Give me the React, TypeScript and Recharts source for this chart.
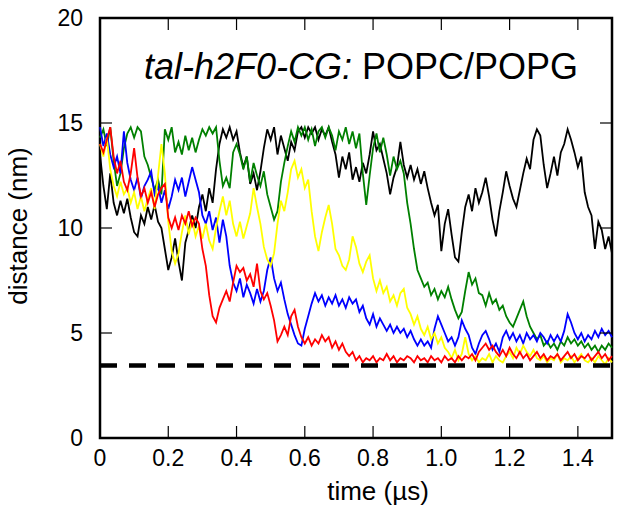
import {
  LineChart,
  Line,
  XAxis,
  YAxis,
  ReferenceLine,
  ReferenceArea
} from 'recharts'

// time step of the trajectories (µs)
const dt = 0.01

const blackRun = [
  13.5, 12.0, 10.9, 12.6, 11.2, 10.6, 11.3, 10.7, 11.4, 10.5,
  9.8, 9.6, 10.6, 10.2, 11.0, 10.4, 11.1, 10.3, 10.0, 9.0,
  8.0, 8.6, 9.5, 8.4, 7.5, 9.3, 9.9, 10.6, 10.0, 11.0,
  11.6, 10.8, 11.9, 11.2, 12.8, 14.0, 14.7, 14.3, 14.8, 14.2,
  14.6, 13.6, 12.9, 13.4, 12.1, 12.6, 11.8, 12.7, 13.8, 14.7,
  14.2, 14.8, 13.5, 14.4, 13.8, 13.2, 14.1, 13.7, 14.6, 14.8,
  14.3, 14.8, 14.5, 14.8, 14.2, 14.7, 14.4, 14.8, 14.1, 13.5,
  12.4, 13.4, 12.8, 13.6, 12.3, 12.9, 12.2, 13.1, 12.6, 13.5,
  14.6, 13.7, 14.0, 13.3, 12.6, 11.6, 12.4, 12.9, 14.1, 13.0,
  12.4, 13.0, 12.3, 12.8, 12.1, 12.7, 11.9, 11.2, 10.6, 11.1,
  8.9, 10.2, 10.9, 9.7, 8.6, 8.4, 9.8, 11.0, 11.6, 10.8,
  11.9, 11.2, 11.7, 12.4, 11.5, 10.4, 9.6, 10.8, 11.7, 12.7,
  12.0, 11.4, 11.0, 11.8, 12.6, 13.3, 12.8, 14.2, 14.7, 14.4,
  13.0, 11.9, 12.6, 13.4, 12.5, 13.6, 14.0, 14.7, 14.2, 13.6,
  12.9, 13.4, 11.7, 11.0, 10.6, 9.0, 10.3, 9.9, 9.0, 9.6,
  8.8
]

const greenRun = [
  14.3, 14.7, 13.9, 14.8, 13.2, 12.0, 12.6, 13.8, 14.5, 14.8,
  14.3, 14.8, 14.6, 13.4, 13.0, 12.4, 11.8, 12.3, 11.6, 14.7,
  14.2, 14.8, 13.6, 14.1, 13.5, 14.4, 13.7, 14.3, 13.6, 14.2,
  14.7, 14.4, 14.8, 14.5, 14.8, 13.2, 12.0, 12.4, 11.9, 13.6,
  14.0, 13.5, 12.8, 13.4, 12.2, 13.1, 12.5, 12.0, 12.7, 11.6,
  11.0, 10.4, 10.8, 12.2, 13.1, 13.9, 14.6, 14.1, 14.8, 14.4,
  14.8, 14.2, 14.7, 13.9, 14.6, 14.8, 14.3, 14.8, 14.4, 13.7,
  14.6, 14.2, 14.8, 14.0, 14.6, 13.8, 14.5, 12.6, 11.1, 12.5,
  13.8, 14.5, 13.6, 14.3, 13.5, 12.5, 13.4, 12.8, 13.2, 12.6,
  11.2, 10.2, 9.0, 8.0, 7.6, 7.2, 7.4, 6.8, 7.1, 6.6,
  7.0, 6.7, 7.2, 6.6, 6.1, 5.7, 6.0, 7.0, 7.9, 7.3,
  7.6, 6.9, 6.8, 6.3, 6.9, 6.4, 6.6, 6.1, 6.3, 5.8,
  5.5, 5.3, 5.7, 6.1, 6.5, 5.8, 5.3, 5.0, 4.7, 4.9,
  4.4, 4.6, 4.3, 4.5, 4.2, 4.6, 4.4, 4.8, 4.5, 4.7,
  4.4, 4.6, 4.3, 4.5, 4.2, 4.4, 4.1, 4.4, 4.2, 4.5,
  4.3
]

const yellowRun = [
  14.0, 13.4, 14.3, 12.8, 12.0, 11.5, 12.2, 11.6, 11.9, 11.2,
  11.7, 10.9, 11.5, 10.8, 11.4, 11.9, 10.9, 12.5, 14.0, 12.6,
  10.3, 8.9, 8.3, 8.8, 9.8, 10.6, 9.7, 10.4, 9.6, 10.1,
  9.5, 10.2, 9.4, 9.0, 10.0, 10.8, 11.5, 10.6, 11.3, 10.2,
  9.6, 10.3, 9.5, 10.1, 10.7, 11.9, 11.0, 10.2, 9.1, 8.5,
  8.2, 8.8, 10.2, 11.3, 10.8, 11.7, 12.8, 13.2, 12.4, 12.8,
  11.9, 12.3, 10.8, 9.6, 8.9, 9.8, 10.5, 11.1, 10.2, 9.0,
  8.7, 8.2, 8.0, 8.5, 9.6, 9.1, 8.3, 7.9, 8.4, 8.7,
  7.6, 7.0, 7.5, 6.9, 7.2, 6.5, 6.8, 6.3, 6.9, 7.1,
  6.2, 5.9, 5.4, 5.8, 5.2, 4.9, 5.3, 4.7, 5.0, 4.5,
  4.8, 4.3, 4.1, 3.8, 4.2, 3.7, 4.0, 4.8, 4.0, 3.7,
  3.9, 3.6, 3.8, 3.7, 4.0, 3.6, 3.9, 3.7, 3.6, 3.9,
  4.1, 3.8, 4.3, 4.0, 4.4, 4.1, 3.9, 4.2, 3.8, 3.7,
  3.9, 3.6, 3.8, 3.7, 4.0, 3.6, 3.8, 3.7, 3.9, 3.6,
  3.8, 4.0, 3.7, 3.6, 3.8, 3.6, 3.9, 3.7, 3.5, 3.8,
  3.6
]

const blueRun = [
  14.8, 13.9, 14.5, 13.5, 12.9, 13.4, 12.6, 14.6, 13.1, 12.3,
  11.8, 12.4, 11.4, 12.0, 12.3, 12.7, 11.6, 12.0, 11.2, 11.8,
  10.9, 11.5, 12.3, 11.8, 12.4, 11.5, 12.2, 12.9, 12.3, 11.7,
  10.6, 10.2, 10.8, 9.9, 10.5, 9.3, 10.4, 9.6, 8.2, 7.4,
  7.0, 7.6, 6.7, 7.3, 6.9, 6.4, 7.1, 6.5, 7.0, 8.0,
  8.6, 7.6, 7.0, 7.4, 6.6, 5.9, 5.4, 4.9, 4.5, 4.4,
  5.2, 5.8, 6.4, 6.9, 6.5, 6.8, 6.3, 6.7, 6.4, 6.8,
  6.3, 6.6, 6.2, 6.7, 6.4, 6.6, 6.0, 6.3, 5.7, 5.4,
  5.9, 5.3, 5.7, 5.4, 5.1, 5.4, 5.0, 5.3, 5.0, 5.2,
  4.8, 5.1, 4.7, 4.4, 4.7, 4.4, 4.6, 4.3, 5.2, 5.8,
  5.4, 5.0, 4.6, 4.8, 4.4, 4.8, 5.6, 5.2, 4.9, 4.3,
  4.0, 4.5, 4.9, 5.1, 4.7, 4.2, 4.5, 4.1, 4.8, 5.1,
  4.7, 5.0, 4.6, 4.9, 4.5, 5.0, 4.7, 4.9, 4.6, 5.0,
  4.8, 4.5, 4.9, 4.6, 4.9, 4.6, 5.1, 5.9, 5.5, 5.0,
  4.7, 5.0, 4.6, 4.9, 4.7, 5.1, 4.8, 5.2, 4.9, 5.1,
  4.8
]

const redRun = [
  14.0, 13.6, 14.2, 14.8, 13.4, 12.6, 13.2, 12.2, 11.8, 12.6,
  13.8, 12.4, 11.5, 11.9, 11.2, 11.7, 11.0, 11.6, 11.9, 12.1,
  10.5, 10.0, 10.5, 9.9, 10.6, 10.2, 10.8, 10.1, 10.5, 10.2,
  9.0, 8.2, 6.8, 5.8, 5.5, 6.2, 6.6, 7.0, 6.5, 7.4,
  8.2, 7.9, 8.1, 7.5, 7.8, 7.2, 8.3, 7.0, 6.6, 6.9,
  6.3, 5.6, 4.6, 4.9, 5.3, 4.9, 5.8, 6.1, 5.3, 4.8,
  4.5, 4.8, 4.4, 4.7, 4.5, 4.9, 4.6, 4.8, 4.3, 4.6,
  4.2, 4.5, 4.1, 3.9, 4.1, 3.7, 3.9, 3.6, 3.8, 3.7,
  3.9, 3.6, 3.8, 3.7, 4.0, 3.7, 3.9, 3.6, 3.8, 3.7,
  3.9, 3.8, 3.6, 3.9, 3.7, 3.8, 3.6, 3.9, 3.7, 3.8,
  3.6, 3.9, 3.7, 3.8, 3.6, 3.9, 3.7, 3.9, 3.8, 4.0,
  3.7, 4.1, 4.3, 4.5, 4.2, 4.4, 4.1, 3.9, 4.2, 3.9,
  4.3, 4.0, 3.8, 4.1, 3.8, 4.0, 3.7, 3.9, 4.1, 3.8,
  4.0, 3.7, 3.9, 3.8, 4.0, 3.7, 3.9, 4.1, 3.8, 4.0,
  3.7, 3.9, 3.8, 4.0, 3.7, 3.9, 4.1, 3.8, 4.0, 3.7,
  3.9
]

const contactDistance = 3.45
const xTicks = [0, 0.2, 0.4, 0.6, 0.8, 1.0, 1.2, 1.4]
const yTicks = [0, 5, 10, 15, 20]

const data = blackRun.map((_, i) => ({
  t: +(i * dt).toFixed(2),
  black: blackRun[i],
  green: greenRun[i],
  yellow: yellowRun[i],
  blue: blueRun[i],
  red: redRun[i]
}))

// plot box in page coordinates (chart is pulled up over the body margin)
const T = 18
const B = 438
const L = 100
const R = 612
const font = '"Liberation Sans", Arial, Helvetica, sans-serif'

const XTick = (props: any) => {
  const { x, payload } = props
  const v = payload.value
  return (
    <g>
      {v !== 0 && (
        <>
          <line x1={x} y1={B} x2={x} y2={B - 12} stroke="#000" strokeWidth={1.2} />
          <line x1={x} y1={T} x2={x} y2={T + 12} stroke="#000" strokeWidth={1.2} />
        </>
      )}
      <text x={x} y={B + 28} textAnchor="middle" fontSize={23} fill="#000" fontFamily={font}>
        {v === 0 ? '0' : v.toFixed(1)}
      </text>
    </g>
  )
}

const YTick = (props: any) => {
  const { y, payload } = props
  const v = payload.value
  return (
    <g>
      {v !== 0 && v !== 20 && (
        <>
          <line x1={L} y1={y} x2={L + 12} y2={y} stroke="#000" strokeWidth={1.2} />
          <line x1={R} y1={y} x2={R - 12} y2={y} stroke="#000" strokeWidth={1.2} />
        </>
      )}
      <text x={L - 17} y={y + 8} textAnchor="end" fontSize={23} fill="#000" fontFamily={font}>
        {v}
      </text>
    </g>
  )
}

const XLabel = () => (
  <text x={378} y={500} textAnchor="middle" fontSize={26} fill="#000" fontFamily={font}>
    time (µs)
  </text>
)

const YLabel = () => (
  <text
    x={27}
    y={226}
    transform="rotate(-90 27 226)"
    textAnchor="middle"
    fontSize={26}
    fill="#000"
    fontFamily={font}
  >
    distance (nm)
  </text>
)

const Title = () => (
  <text x={361} y={79} textAnchor="middle" fontSize={36} fill="#000" fontFamily={font}>
    <tspan fontStyle="italic">tal-h2F0-CG:</tspan>
    <tspan> POPC/POPG</tspan>
  </text>
)

const App = () => {
  return (
    <div style={{ margin: '-8px 0 0 -8px' }}>
      <LineChart
        width={622}
        height={510}
        data={data}
        margin={{ top: 18, right: 10, left: 8, bottom: 42 }}
        style={{ fontFamily: font }}
      >
        <XAxis
          type="number"
          dataKey="t"
          domain={[0, 1.5]}
          ticks={xTicks}
          interval={0}
          tick={<XTick />}
          tickLine={false}
          axisLine={false}
          tickSize={0}
          height={30}
          label={<XLabel />}
        />
        <YAxis
          type="number"
          domain={[0, 20]}
          ticks={yTicks}
          interval={0}
          tick={<YTick />}
          tickLine={false}
          axisLine={false}
          tickSize={0}
          width={92}
          label={<YLabel />}
        />
        <Line type="linear" dataKey="black" stroke="#000000" strokeWidth={1.8} dot={false} isAnimationActive={false} />
        <Line type="linear" dataKey="green" stroke="#008000" strokeWidth={1.8} dot={false} isAnimationActive={false} />
        <Line type="linear" dataKey="blue" stroke="#0000ff" strokeWidth={1.8} dot={false} isAnimationActive={false} />
        <Line type="linear" dataKey="yellow" stroke="#ffff00" strokeWidth={1.8} dot={false} isAnimationActive={false} />
        <Line type="linear" dataKey="red" stroke="#ff0000" strokeWidth={1.8} dot={false} isAnimationActive={false} />
        <ReferenceLine y={contactDistance} stroke="#000" strokeWidth={4.5} strokeDasharray="17 12" />
        <ReferenceArea
          x1={0}
          x2={1.5}
          y1={0}
          y2={20}
          fill="none"
          fillOpacity={0}
          stroke="#000"
          strokeWidth={2.5}
          label={<Title />}
        />
      </LineChart>
    </div>
  )
}

export default App
